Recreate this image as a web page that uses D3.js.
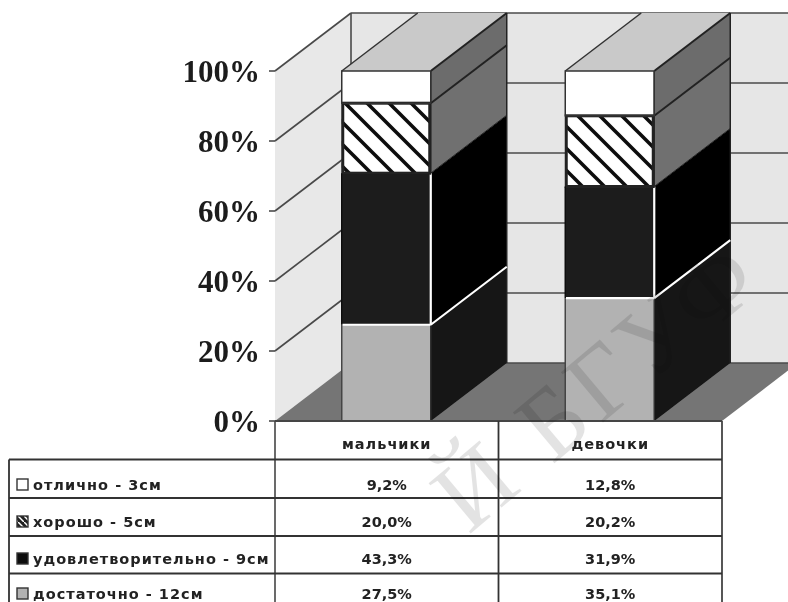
<!DOCTYPE html>
<html><head><meta charset="utf-8">
<script src="https://cdn.jsdelivr.net/npm/d3@7"></script>
<style>html,body{margin:0;padding:0;background:#fff;overflow:hidden}svg{display:block}</style>
</head><body><div id="c"></div>
<script>
const categories = ["мальчики", "девочки"];
const seriesNames = ["достаточно - 12см", "удовлетворительно - 9см", "хорошо - 5см", "отлично - 3см"];
const dostatochno = [27.5, 35.1];
const udovl = [43.3, 31.9];
const horosho = [20.0, 20.2];
const otlichno = [9.2, 12.8];
const yTicks = [0, 20, 40, 60, 80, 100];
const tableOrder = [3, 2, 1, 0];

const W = 788, H = 602;
const dx = 76, dy = -58;
const values = [dostatochno, udovl, horosho, otlichno];
const y = d3.scaleLinear().domain([0, 100]).range([421, 71]);
const x = d3.scaleBand().domain(categories).range([275, 722]);
const barW = 89;

const svg = d3.select("#c").append("svg").attr("width", W).attr("height", H);
const defs = svg.append("defs");
const pat = defs.append("pattern").attr("id", "hatch").attr("patternUnits", "userSpaceOnUse")
  .attr("width", 22).attr("height", 22);
pat.append("rect").attr("width", 22).attr("height", 22).attr("fill", "#fff");
pat.append("path").attr("d", "M-5.5,-5.5L27.5,27.5M-5.5,16.5L5.5,27.5M16.5,-5.5L27.5,5.5")
  .attr("stroke", "#111").attr("stroke-width", 3.6).attr("fill", "none");
defs.append("filter").attr("id", "soft").append("feGaussianBlur").attr("stdDeviation", 0.55);

const g = svg.append("g").attr("filter", "url(#soft)");
const line = (a, b, c, d, col = "#4a4a4a", w = 1.6) =>
  g.append("line").attr("x1", a).attr("y1", b).attr("x2", c).attr("y2", d).attr("stroke", col).attr("stroke-width", w);
const poly = (pts, fill, stroke, sw) =>
  g.append("polygon").attr("points", pts.map(p => p.join(",")).join(" ")).attr("fill", fill)
    .attr("stroke", stroke || "none").attr("stroke-width", sw || 0).attr("stroke-linejoin", "round");

const x0 = x.range()[0], x1 = x.range()[1];
poly([[x0, y(0)], [x0 + dx, y(0) + dy], [x0 + dx, y(100) + dy], [x0, y(100)]], "#e8e8e8");
poly([[x0 + dx, y(0) + dy], [x1 + dx, y(0) + dy], [x1 + dx, y(100) + dy], [x0 + dx, y(100) + dy]], "#e6e6e6");
poly([[x0, y(0)], [x0 + dx, y(0) + dy], [x1 + dx, y(0) + dy], [x1, y(0)]], "#757575");
yTicks.forEach(t => {
  if (t > 0) line(x0, y(t), x0 + dx, y(t) + dy);
  line(x0 + dx, y(t) + dy, x1 + dx, y(t) + dy);
  line(x0 - 6, y(t), x0, y(t));
});
line(x0 + dx, y(0) + dy, x0 + dx, y(100) + dy);

const frontFill = ["#b2b2b2", "#1c1c1c", "url(#hatch)", "#ffffff"];
const sideFill = ["#141414", "#000000", "#707070", "#6c6c6c"];
categories.forEach((cat, i) => {
  const bx0 = x(cat) + (x.bandwidth() - barW) / 2 - 0.5, bx1 = bx0 + barW;
  let cum = 0;
  values.forEach((s, k) => {
    const yb = y(cum), yt = y(cum + s[i]);
    cum += s[i];
    poly([[bx1, yb], [bx1 + dx, yb + dy], [bx1 + dx, yt + dy], [bx1, yt]], sideFill[k]);
    poly([[bx0, yb], [bx1, yb], [bx1, yt], [bx0, yt]], frontFill[k]);
  });
  poly([[bx0, y(100)], [bx1, y(100)], [bx1 + dx, y(100) + dy], [bx0 + dx, y(100) + dy]], "#c9c9c9");
  line(bx0, y(100), bx0 + dx, y(100) + dy, "#333", 1.5);
  line(bx1, y(100), bx1 + dx, y(100) + dy, "#222", 2);
  line(bx1 + dx, y(100) + dy, bx1 + dx, y(0) + dy, "#222", 1.5);
  line(bx1, y(100), bx1, y(0), "#333", 1.5);
  const c1 = dostatochno[i], c2 = c1 + udovl[i], c3 = c2 + horosho[i];
  line(bx0, y(c1), bx1, y(c1), "#fff", 2.2);
  line(bx1, y(c1), bx1 + dx, y(c1) + dy, "#fff", 2.2);
  line(bx1, y(c1), bx1, y(c2), "#fff", 2.2);
  line(bx1, y(c2), bx1 + dx, y(c2) + dy, "#222", 1);
  line(bx1, y(c3), bx1 + dx, y(c3) + dy, "#222", 2);
  g.append("rect").attr("x", bx0 + 1).attr("y", y(c3)).attr("width", barW - 2).attr("height", y(c2) - y(c3))
    .attr("fill", "none").attr("stroke", "#222").attr("stroke-width", 3);
  g.append("rect").attr("x", bx0).attr("y", y(100)).attr("width", barW).attr("height", y(c3) - y(100))
    .attr("fill", "none").attr("stroke", "#333").attr("stroke-width", 1.5);
  line(bx0, y(0), bx0, y(c1), "#444", 1.5);
  line(bx0, y(c1), bx0, y(c2), "#111", 1.5);
});

const rowY = [459.5, 498, 536, 573.5];
line(x0, y(0), x1, y(0), "#444", 2);
line(x0, 421, x0, H, "#444", 1.6);
line(x0 + x.bandwidth(), 421, x0 + x.bandwidth(), H, "#333", 1.8);
line(x1, 421, x1, H, "#444", 1.8);
line(9, 459.5, 9, H, "#444", 2);
rowY.forEach(ry => line(9, ry, x1, ry, "#333", 2));

const fontT = "'DejaVu Sans', sans-serif";
const txt = (xx, yy, s, opts = {}) =>
  g.append("text").attr("x", xx).attr("y", yy).attr("text-anchor", opts.a || "middle")
    .attr("font-family", opts.f || fontT).attr("font-size", opts.s || 14.5)
    .attr("font-weight", opts.w || "bold").attr("letter-spacing", opts.ls || 0)
    .attr("fill", opts.c || "#222").text(s);

categories.forEach(c => txt(x(c) + x.bandwidth() / 2, 449, c, { ls: 1, c: "#222" }));
const rowText = [490, 527, 564, 599];
const patS = defs.append("pattern").attr("id", "hatchS").attr("patternUnits", "userSpaceOnUse")
  .attr("width", 6).attr("height", 6);
patS.append("rect").attr("width", 6).attr("height", 6).attr("fill", "#222");
patS.append("path").attr("d", "M-1.5,-1.5L7.5,7.5").attr("stroke", "#fff").attr("stroke-width", 1.5);
const swFill = ["#b2b2b2", "#111", "url(#hatchS)", "#fff"];
tableOrder.forEach((k, r) => {
  g.append("rect").attr("x", 17).attr("y", rowText[r] - 11).attr("width", 11).attr("height", 11)
    .attr("fill", swFill[k]).attr("stroke", "#333").attr("stroke-width", 1.4);
  txt(33, rowText[r], seriesNames[k], { a: "start", ls: 1, c: "#222" });
  categories.forEach((c, i) =>
    txt(x(c) + x.bandwidth() / 2, rowText[r], values[k][i].toFixed(1).replace(".", ",") + "%"));
});

yTicks.forEach(t => txt(260, y(t) + 11, t + "%", {
  a: "end", s: 31, f: "'Liberation Serif', serif", c: "#1a1a1a"
}));

svg.append("text").attr("transform", "translate(768,284) rotate(-40)").attr("text-anchor", "end")
  .attr("font-family", "'Liberation Serif', serif").attr("font-size", 100).attr("letter-spacing", 6)
  .attr("fill", "#000").attr("opacity", 0.11).style("mix-blend-mode", "multiply")
  .text("Й БГУФ");
</script></body></html>
